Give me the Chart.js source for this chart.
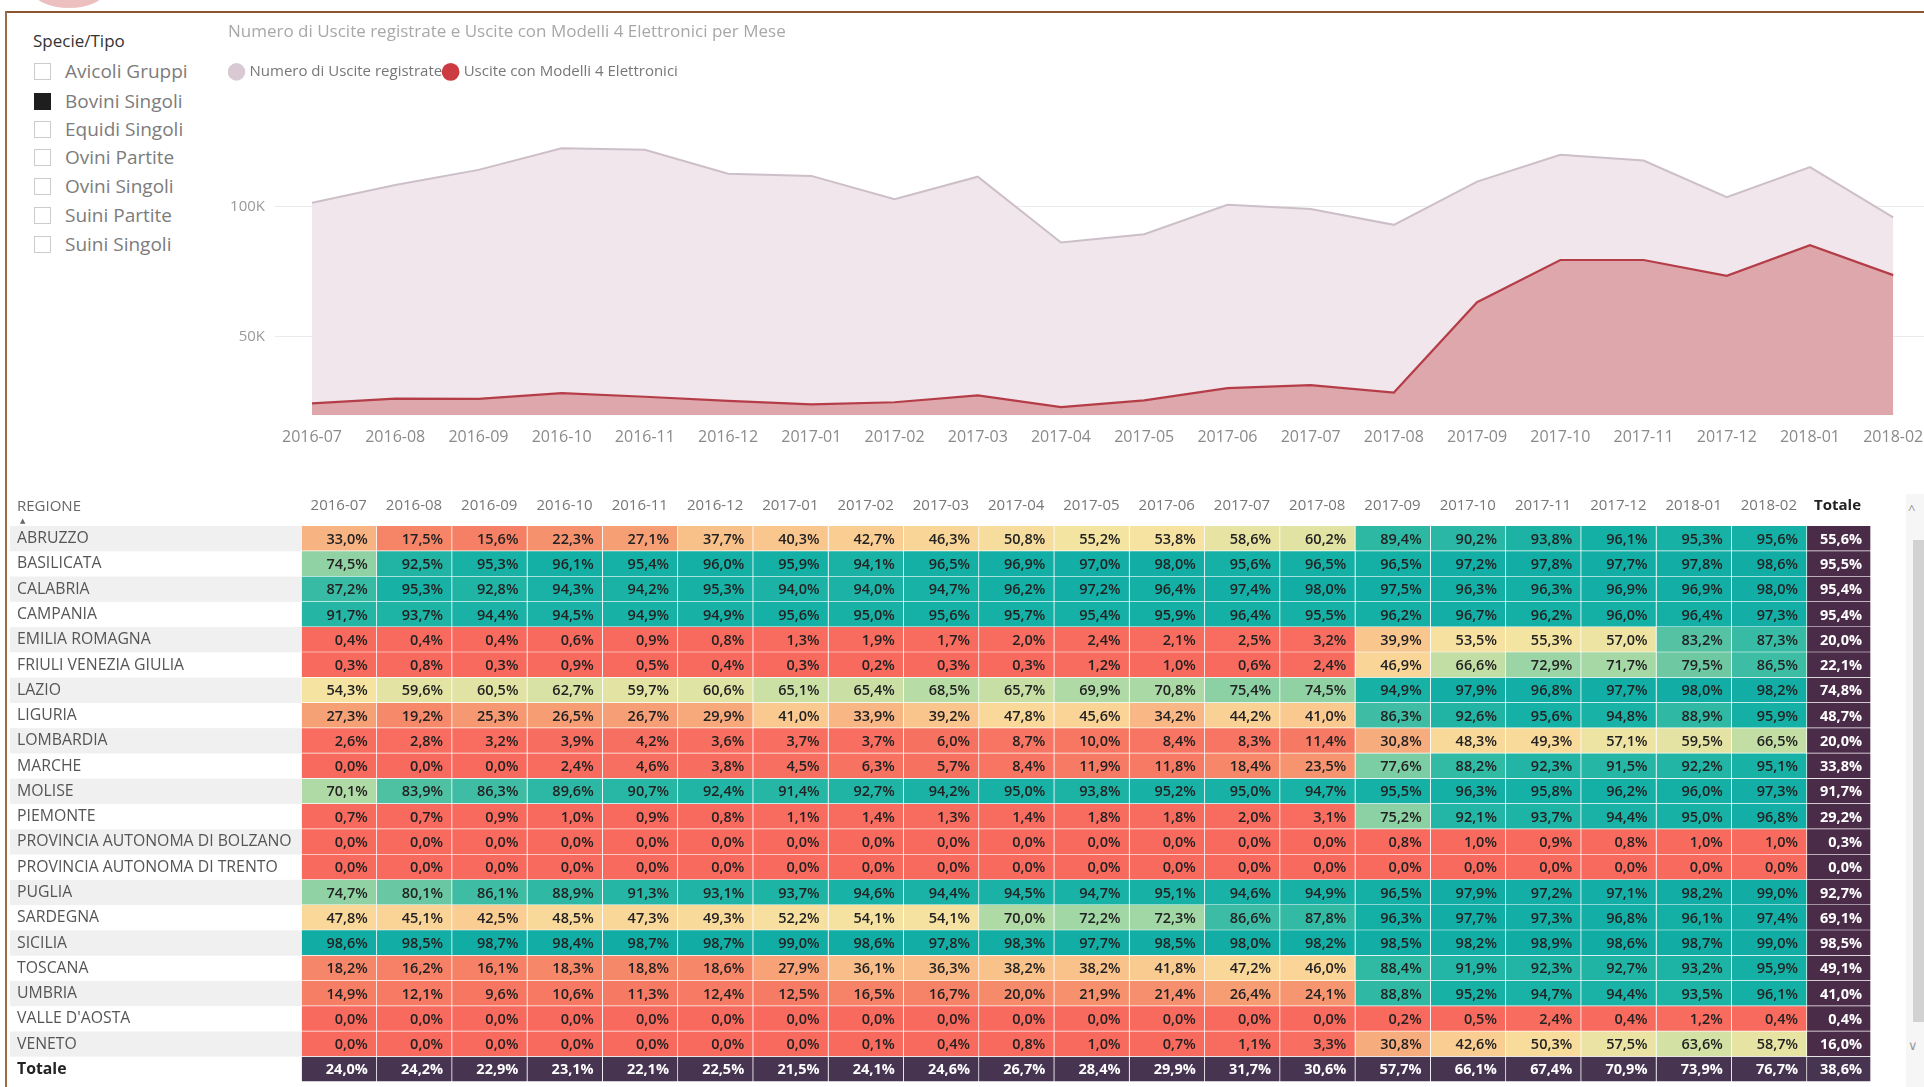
<!DOCTYPE html>
<html>
<head>
<meta charset="utf-8">
<script src="https://cdn.jsdelivr.net/npm/chart.js@4.4.1/dist/chart.umd.min.js"></script>
<style>
  body { margin: 0; width: 1924px; height: 1087px; background: #fff; overflow: hidden; position: relative; font-family: "Open Sans", sans-serif; }
  .abs { position: absolute; }
  #topline { left: 6px; top: 11px; width: 1918px; height: 2px; background: #8a5530; }
  #leftline { left: 5px; top: 11px; width: 1.5px; height: 1076px; background: #a06a45; }
  #blob { left: 33px; top: -26px; width: 72px; height: 34px; border-radius: 50%; background: rgba(222,140,140,0.55); }
  #slicerTitle { left: 33px; top: 30px; font-size: 17px; line-height: 22px; color: #333; }
  .item { position: absolute; left: 65px; font-size: 19px; line-height: 24px; color: #7c7c7c; white-space: nowrap; }
  .box { position: absolute; left: 34px; width: 15px; height: 15px; border: 1.5px solid #cccccc; box-sizing: content-box; }
  .box.on { background: #1e1e1e; border-color: #1e1e1e; }
  #areaWrap { left: 215px; top: 15px; width: 1709px; height: 440px; }
  #heatWrap { left: 10px; top: 488px; width: 1861px; height: 599px; }
  #track { left: 1906px; top: 494px; width: 18px; height: 593px; background: #f6f6f6; }
  #thumb { left: 1913px; top: 540px; width: 11px; height: 482px; background: #d2d2d2; }
  .arrow { left: 1908px; font-size: 13px; color: #999; }
</style>
</head>
<body>
<div id="blob" class="abs"></div>
<div id="topline" class="abs"></div>
<div id="leftline" class="abs"></div>
<div id="slicerTitle" class="abs">Specie/Tipo</div>
<div id="slicer"></div>
<div id="areaWrap" class="abs"><canvas id="area"></canvas></div>
<div id="heatWrap" class="abs"><canvas id="heat"></canvas></div>
<div id="track" class="abs"></div>
<div id="thumb" class="abs"></div>
<div class="abs arrow" style="top:500px">&#94;</div>
<div class="abs arrow" style="top:1036px">&#8744;</div>
<script>
// --- dati ---
const specie = ["Avicoli Gruppi", "Bovini Singoli", "Equidi Singoli", "Ovini Partite", "Ovini Singoli", "Suini Partite", "Suini Singoli"];
const specieScelta = "Bovini Singoli";

const mesi = ["2016-07", "2016-08", "2016-09", "2016-10", "2016-11", "2016-12", "2017-01", "2017-02", "2017-03", "2017-04",
              "2017-05", "2017-06", "2017-07", "2017-08", "2017-09", "2017-10", "2017-11", "2017-12", "2018-01", "2018-02"];
const usciteRegistrate = [101500, 108300, 114100, 122400, 121800, 112600, 111800, 102800, 111500, 86200,
                          89400, 100700, 99100, 93000, 109600, 119900, 117700, 103600, 115200, 95900];
const usciteModelli4 = [24500, 26300, 26200, 28400, 27000, 25400, 24100, 24900, 27500, 23000,
                        25600, 30300, 31500, 28600, 63300, 79500, 79500, 73400, 85200, 73700];
const yTickValori = [50000, 100000];

const regioni = ["ABRUZZO", "BASILICATA", "CALABRIA", "CAMPANIA", "EMILIA ROMAGNA", "FRIULI VENEZIA GIULIA", "LAZIO",
                 "LIGURIA", "LOMBARDIA", "MARCHE", "MOLISE", "PIEMONTE", "PROVINCIA AUTONOMA DI BOLZANO",
                 "PROVINCIA AUTONOMA DI TRENTO", "PUGLIA", "SARDEGNA", "SICILIA", "TOSCANA", "UMBRIA", "VALLE D'AOSTA", "VENETO"];

const abruzzo    = [33.0, 17.5, 15.6, 22.3, 27.1, 37.7, 40.3, 42.7, 46.3, 50.8, 55.2, 53.8, 58.6, 60.2, 89.4, 90.2, 93.8, 96.1, 95.3, 95.6];
const basilicata = [74.5, 92.5, 95.3, 96.1, 95.4, 96.0, 95.9, 94.1, 96.5, 96.9, 97.0, 98.0, 95.6, 96.5, 96.5, 97.2, 97.8, 97.7, 97.8, 98.6];
const calabria   = [87.2, 95.3, 92.8, 94.3, 94.2, 95.3, 94.0, 94.0, 94.7, 96.2, 97.2, 96.4, 97.4, 98.0, 97.5, 96.3, 96.3, 96.9, 96.9, 98.0];
const campania   = [91.7, 93.7, 94.4, 94.5, 94.9, 94.9, 95.6, 95.0, 95.6, 95.7, 95.4, 95.9, 96.4, 95.5, 96.2, 96.7, 96.2, 96.0, 96.4, 97.3];
const emilia     = [0.4, 0.4, 0.4, 0.6, 0.9, 0.8, 1.3, 1.9, 1.7, 2.0, 2.4, 2.1, 2.5, 3.2, 39.9, 53.5, 55.3, 57.0, 83.2, 87.3];
const friuli     = [0.3, 0.8, 0.3, 0.9, 0.5, 0.4, 0.3, 0.2, 0.3, 0.3, 1.2, 1.0, 0.6, 2.4, 46.9, 66.6, 72.9, 71.7, 79.5, 86.5];
const lazio      = [54.3, 59.6, 60.5, 62.7, 59.7, 60.6, 65.1, 65.4, 68.5, 65.7, 69.9, 70.8, 75.4, 74.5, 94.9, 97.9, 96.8, 97.7, 98.0, 98.2];
const liguria    = [27.3, 19.2, 25.3, 26.5, 26.7, 29.9, 41.0, 33.9, 39.2, 47.8, 45.6, 34.2, 44.2, 41.0, 86.3, 92.6, 95.6, 94.8, 88.9, 95.9];
const lombardia  = [2.6, 2.8, 3.2, 3.9, 4.2, 3.6, 3.7, 3.7, 6.0, 8.7, 10.0, 8.4, 8.3, 11.4, 30.8, 48.3, 49.3, 57.1, 59.5, 66.5];
const marche     = [0.0, 0.0, 0.0, 2.4, 4.6, 3.8, 4.5, 6.3, 5.7, 8.4, 11.9, 11.8, 18.4, 23.5, 77.6, 88.2, 92.3, 91.5, 92.2, 95.1];
const molise     = [70.1, 83.9, 86.3, 89.6, 90.7, 92.4, 91.4, 92.7, 94.2, 95.0, 93.8, 95.2, 95.0, 94.7, 95.5, 96.3, 95.8, 96.2, 96.0, 97.3];
const piemonte   = [0.7, 0.7, 0.9, 1.0, 0.9, 0.8, 1.1, 1.4, 1.3, 1.4, 1.8, 1.8, 2.0, 3.1, 75.2, 92.1, 93.7, 94.4, 95.0, 96.8];
const bolzano    = [0.0, 0.0, 0.0, 0.0, 0.0, 0.0, 0.0, 0.0, 0.0, 0.0, 0.0, 0.0, 0.0, 0.0, 0.8, 1.0, 0.9, 0.8, 1.0, 1.0];
const trento     = [0.0, 0.0, 0.0, 0.0, 0.0, 0.0, 0.0, 0.0, 0.0, 0.0, 0.0, 0.0, 0.0, 0.0, 0.0, 0.0, 0.0, 0.0, 0.0, 0.0];
const puglia     = [74.7, 80.1, 86.1, 88.9, 91.3, 93.1, 93.7, 94.6, 94.4, 94.5, 94.7, 95.1, 94.6, 94.9, 96.5, 97.9, 97.2, 97.1, 98.2, 99.0];
const sardegna   = [47.8, 45.1, 42.5, 48.5, 47.3, 49.3, 52.2, 54.1, 54.1, 70.0, 72.2, 72.3, 86.6, 87.8, 96.3, 97.7, 97.3, 96.8, 96.1, 97.4];
const sicilia    = [98.6, 98.5, 98.7, 98.4, 98.7, 98.7, 99.0, 98.6, 97.8, 98.3, 97.7, 98.5, 98.0, 98.2, 98.5, 98.2, 98.9, 98.6, 98.7, 99.0];
const toscana    = [18.2, 16.2, 16.1, 18.3, 18.8, 18.6, 27.9, 36.1, 36.3, 38.2, 38.2, 41.8, 47.2, 46.0, 88.4, 91.9, 92.3, 92.7, 93.2, 95.9];
const umbria     = [14.9, 12.1, 9.6, 10.6, 11.3, 12.4, 12.5, 16.5, 16.7, 20.0, 21.9, 21.4, 26.4, 24.1, 88.8, 95.2, 94.7, 94.4, 93.5, 96.1];
const valleAosta = [0.0, 0.0, 0.0, 0.0, 0.0, 0.0, 0.0, 0.0, 0.0, 0.0, 0.0, 0.0, 0.0, 0.0, 0.2, 0.5, 2.4, 0.4, 1.2, 0.4];
const veneto     = [0.0, 0.0, 0.0, 0.0, 0.0, 0.0, 0.0, 0.1, 0.4, 0.8, 1.0, 0.7, 1.1, 3.3, 30.8, 42.6, 50.3, 57.5, 63.6, 58.7];

const totaleRegione = [55.6, 95.5, 95.4, 95.4, 20.0, 22.1, 74.8, 48.7, 20.0, 33.8, 91.7, 29.2, 0.3, 0.0, 92.7, 69.1, 98.5, 49.1, 41.0, 0.4, 16.0];
const totaleMese = [24.0, 24.2, 22.9, 23.1, 22.1, 22.5, 21.5, 24.1, 24.6, 26.7, 28.4, 29.9, 31.7, 30.6, 57.7, 66.1, 67.4, 70.9, 73.9, 76.7];
const totaleGenerale = 38.6;

const righe = [abruzzo, basilicata, calabria, campania, emilia, friuli, lazio, liguria, lombardia, marche, molise,
               piemonte, bolzano, trento, puglia, sardegna, sicilia, toscana, umbria, valleAosta, veneto];

// --- slicer ---
const slicer = document.getElementById('slicer');
specie.forEach((s, i) => {
  const cy = [72, 102, 130, 158, 187, 216, 245][i];
  const b = document.createElement('div');
  b.className = 'box' + (s === specieScelta ? ' on' : '');
  b.style.top = (cy - 9) + 'px';
  slicer.appendChild(b);
  const t = document.createElement('div');
  t.className = 'item';
  t.style.top = (cy - 13) + 'px';
  t.textContent = s;
  slicer.appendChild(t);
});

Chart.defaults.font.family = '"Open Sans", sans-serif';
Chart.defaults.animation = false;

// --- grafico ad area ---
const coloriLegenda = ['#d9c9d3', '#cc3a42'];
new Chart(document.getElementById('area'), {
  type: 'line',
  data: {
    datasets: [
      {
        label: "Numero di Uscite registrate",
        data: usciteRegistrate.map((v, i) => ({x: i, y: v})),
        fill: 'start',
        backgroundColor: '#f1e6ec',
        borderColor: '#cdbfc8',
        borderWidth: 2,
        pointRadius: 0,
        tension: 0,
        order: 2
      },
      {
        label: "Uscite con Modelli 4 Elettronici",
        data: usciteModelli4.map((v, i) => ({x: i, y: v})),
        fill: 'start',
        backgroundColor: '#dea7ac',
        borderColor: '#b53d48',
        borderWidth: 2.2,
        pointRadius: 0,
        tension: 0,
        order: 1
      }
    ]
  },
  options: {
    responsive: true,
    maintainAspectRatio: false,
    layout: {padding: {left: 13, top: 0, right: 0, bottom: 0}},
    plugins: {
      tooltip: {enabled: false},
      title: {
        display: true,
        text: "Numero di Uscite registrate e Uscite con Modelli 4 Elettronici per Mese",
        align: 'start',
        color: '#a8a8a8',
        font: {size: 17, weight: 'normal'},
        padding: {top: 7, bottom: 19}
      },
      legend: {
        position: 'top',
        align: 'start',
        labels: {
          usePointStyle: true,
          pointStyle: 'circle',
          boxWidth: 11,
          boxHeight: 11,
          padding: 3,
          color: '#777',
          font: {size: 15},
          sort: (a, b) => a.datasetIndex - b.datasetIndex,
          generateLabels: chart => Chart.defaults.plugins.legend.labels.generateLabels(chart).map(it => {
            it.fillStyle = coloriLegenda[it.datasetIndex];
            it.strokeStyle = coloriLegenda[it.datasetIndex];
            return it;
          })
        }
      }
    },
    scales: {
      x: {
        type: 'linear',
        min: 0,
        max: 19.37,
        grid: {display: false, drawTicks: false},
        border: {display: false},
        ticks: {color: '#8a8a8a', font: {size: 16}, padding: 13, autoSkip: false, maxRotation: 0,
                callback: v => mesi[v]},
        afterBuildTicks: s => { s.ticks = mesi.map((m, i) => ({value: i})); },
        afterFit: s => { s.height = 40; s.paddingLeft = 0; s.paddingRight = 0; }
      },
      y: {
        min: 20000,
        max: 145000,
        grid: {color: '#ebebeb', tickLength: 37},
        border: {display: false},
        ticks: {color: '#9a9a9a', font: {size: 15}, padding: 10, callback: v => (v / 1000) + 'K'},
        afterBuildTicks: s => { s.ticks = yTickValori.map(v => ({value: v})); },
        afterFit: s => { s.width = 84; s.paddingTop = 0; s.paddingBottom = 0; }
      }
    }
  }
});

// --- tabella heatmap ---
const intestazioni = mesi.concat(['Totale']);
const etichetteRighe = regioni.concat(['Totale']);
const larghezzaTotale = 0.85;

const scala = [
  [0, 248, 105, 94], [15, 246, 126, 101], [25, 246, 152, 113], [35, 248, 186, 134], [45, 250, 211, 150],
  [55, 245, 228, 162], [63, 214, 226, 164], [71, 170, 217, 165], [80, 106, 200, 163], [88, 50, 186, 164],
  [96, 20, 176, 166], [100, 16, 172, 165]
];
function colore(v) {
  for (let k = 1; k < scala.length; k++) {
    if (v <= scala[k][0]) {
      const a = scala[k - 1], b = scala[k];
      const t = (v - a[0]) / (b[0] - a[0]);
      const c = [1, 2, 3].map(n => Math.round(a[n] + (b[n] - a[n]) * t));
      return 'rgb(' + c.join(',') + ')';
    }
  }
  return 'rgb(16,172,165)';
}
const fmt = v => v.toFixed(1).replace('.', ',') + '%';

const colonne = intestazioni.map((h, j) => ({
  label: h,
  data: etichetteRighe.map((lab, i) => {
    let v;
    if (i < regioni.length) v = j < mesi.length ? righe[i][j] : totaleRegione[i];
    else v = j < mesi.length ? totaleMese[j] : totaleGenerale;
    return {x: [j, j < mesi.length ? j + 1 : j + larghezzaTotale], y: lab, v: v};
  }),
  backgroundColor: ctx => {
    if (ctx.dataIndex === regioni.length) return '#463451';
    if (ctx.datasetIndex === mesi.length) return '#4a2b48';
    return colore(ctx.raw.v);
  },
  borderColor: 'rgba(255,255,255,0.6)',
  borderWidth: {top: 0, left: 0, right: 1, bottom: 1},
  borderSkipped: false,
  barPercentage: 1,
  categoryPercentage: 1,
  grouped: false
}));

const fasceRighe = {
  id: 'fasceRighe',
  beforeDraw(chart) {
    const y = chart.scales.y, c = chart.ctx, area = chart.chartArea;
    const h = y.getPixelForValue(1) - y.getPixelForValue(0);
    c.save();
    c.fillStyle = '#f0f0f0';
    for (let i = 0; i < regioni.length; i += 2) {
      const py = y.getPixelForValue(i);
      c.fillRect(0, py - h / 2, area.left, h);
    }
    c.fillStyle = '#666';
    c.font = '15px "Open Sans"';
    c.textAlign = 'left';
    c.textBaseline = 'middle';
    c.fillText('REGIONE', y.left, area.top - 19);
    c.font = '7px "DejaVu Sans"';
    c.fillText('\u25B2', y.left + 3, area.top - 5);
    c.restore();
  }
};

const testoCelle = {
  id: 'testoCelle',
  afterDatasetsDraw(chart) {
    const c = chart.ctx;
    c.save();
    c.textAlign = 'right';
    c.textBaseline = 'middle';
    chart.data.datasets.forEach((ds, j) => {
      chart.getDatasetMeta(j).data.forEach((el, i) => {
        const tot = j === mesi.length || i === regioni.length;
        c.fillStyle = tot ? '#ffffff' : '#222222';
        c.font = (tot ? '700 ' : '600 ') + '14.5px "Open Sans"';
        c.fillText(fmt(ds.data[i].v), Math.max(el.x, el.base) - 9, el.y + 1);
      });
    });
    c.restore();
  }
};

new Chart(document.getElementById('heat'), {
  type: 'bar',
  data: {labels: etichetteRighe, datasets: colonne},
  plugins: [fasceRighe, testoCelle],
  options: {
    indexAxis: 'y',
    responsive: true,
    maintainAspectRatio: false,
    layout: {padding: {left: 7, top: 0, right: 0, bottom: 5}},
    plugins: {legend: {display: false}, tooltip: {enabled: false}},
    scales: {
      x: {
        type: 'linear',
        position: 'top',
        min: 0,
        max: mesi.length + larghezzaTotale,
        grid: {display: false, drawTicks: false},
        border: {display: false},
        ticks: {
          align: 'end',
          padding: 11,
          autoSkip: false,
          maxRotation: 0,
          color: ctx => ctx.index === mesi.length ? '#222' : '#777',
          font: ctx => ({size: 15, weight: ctx.index === mesi.length ? 'bold' : 'normal'}),
          callback: (v, i) => intestazioni[i]
        },
        afterBuildTicks: s => {
          s.ticks = intestazioni.map((h, j) => ({value: j < mesi.length ? j + 1 - 0.133 : j + larghezzaTotale - 0.133}));
        },
        afterFit: s => { s.height = 38; s.paddingLeft = 0; s.paddingRight = 0; }
      },
      y: {
        grid: {display: false, drawTicks: false},
        border: {display: false},
        ticks: {
          crossAlign: 'far',
          autoSkip: false,
          color: ctx => ctx.index === regioni.length ? '#222' : '#555',
          font: ctx => ({size: 15.8, weight: ctx.index === regioni.length ? 'bold' : 'normal'})
        },
        afterFit: s => { s.width = 284.6; s.paddingTop = 0; s.paddingBottom = 0; }
      }
    }
  }
});
</script>
</body>
</html>
